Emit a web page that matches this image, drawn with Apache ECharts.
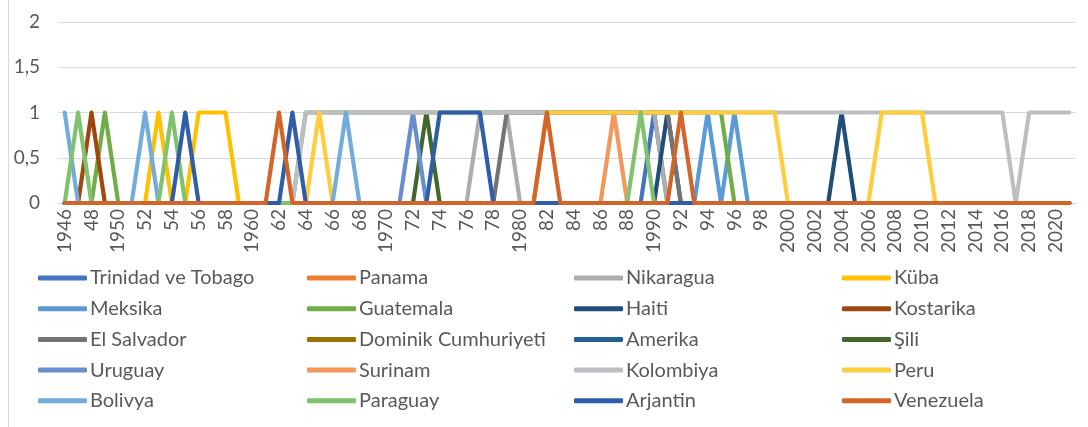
<!DOCTYPE html>
<html lang="tr">
<head>
<meta charset="utf-8">
<title>Ülkeler 1946-2021</title>
<script src="https://cdn.jsdelivr.net/npm/echarts@6/dist/echarts.min.js"></script>
<style>
  html, body { margin: 0; padding: 0; background: #fff; }
  #chart { width: 1088px; height: 427px; }
</style>
</head>
<body>
<div id="chart"></div>
<script>
// yillar (x ekseni)
var years = [];
for (var y = 1946; y <= 2021; y++) years.push(String(y));

// her ulke icin degeri 1 olan yillar
var trinidadYears = [1990];
var panamaYears = [];
var nikaraguaYears = [1977, 1978, 1979, 1982, 1983, 1984, 1985, 1986, 1987, 1988, 1989, 1990];
var kubaYears = [1953, 1956, 1957, 1958];
var meksikaYears = [1994, 1996];
var guatemalaYears = [1949, 1964, 1965, 1966, 1967, 1968, 1969, 1970, 1971, 1972, 1973, 1974, 1975, 1976, 1977, 1978, 1979, 1980, 1981, 1982, 1983, 1984, 1985, 1986, 1987, 1988, 1989, 1990, 1991, 1992, 1993, 1994, 1995];
var haitiYears = [1991, 2004];
var kostarikaYears = [1948];
var elSalvadorYears = [1979, 1980, 1981, 1982, 1983, 1984, 1985, 1986, 1987, 1988, 1989, 1990, 1991];
var dominikYears = [];
var amerikaYears = [];
var siliYears = [1973];
var uruguayYears = [1972];
var surinamYears = [1987];
var kolombiyaYears = [1964, 1965, 1966, 1967, 1968, 1969, 1970, 1971, 1972, 1973, 1974, 1975, 1976, 1977, 1978, 1979, 1980, 1981, 1982, 1983, 1984, 1985, 1986, 1987, 1988, 1989, 1990, 1991, 1992, 1993, 1994, 1995, 1996, 1997, 1998, 1999, 2000, 2001, 2002, 2003, 2004, 2005, 2006, 2007, 2008, 2009, 2010, 2011, 2012, 2013, 2014, 2015, 2016, 2018, 2019, 2020, 2021];
var peruYears = [1965, 1982, 1983, 1984, 1985, 1986, 1987, 1988, 1989, 1990, 1991, 1992, 1993, 1994, 1995, 1996, 1997, 1998, 1999, 2007, 2008, 2009, 2010];
var bolivyaYears = [1946, 1952, 1967];
var paraguayYears = [1947, 1954, 1989];
var arjantinYears = [1955, 1963, 1974, 1975, 1976, 1977];
var venezuelaYears = [1962, 1982, 1992];

var countries = [
  ['Trinidad ve Tobago', trinidadYears, '#4472C4'],
  ['Panama', panamaYears, '#ED7D31'],
  ['Nikaragua', nikaraguaYears, '#ADADAD'],
  ['Küba', kubaYears, '#FFC000'],
  ['Meksika', meksikaYears, '#5B9BD5'],
  ['Guatemala', guatemalaYears, '#70AD47'],
  ['Haiti', haitiYears, '#1F4E79'],
  ['Kostarika', kostarikaYears, '#9E480E'],
  ['El Salvador', elSalvadorYears, '#747474'],
  ['Dominik Cumhuriyeti', dominikYears, '#997300'],
  ['Amerika', amerikaYears, '#255E91'],
  ['Şili', siliYears, '#43682B'],
  ['Uruguay', uruguayYears, '#698ED0'],
  ['Surinam', surinamYears, '#F4975A'],
  ['Kolombiya', kolombiyaYears, '#BDBEC1'],
  ['Peru', peruYears, '#FFCD3C'],
  ['Bolivya', bolivyaYears, '#72ACDD'],
  ['Paraguay', paraguayYears, '#80C26E'],
  ['Arjantin', arjantinYears, '#2F5DA8'],
  ['Venezuela', venezuelaYears, '#D3652A']
];

var series = countries.map(function (c) {
  return {
    name: c[0],
    type: 'line',
    symbol: 'none',
    color: c[2],
    lineStyle: { width: 4.2, cap: 'round', join: 'round' },
    data: years.map(function (yr) { return c[1].indexOf(+yr) >= 0 ? 1 : 0; })
  };
});

// legend: 4 sutun, 5 satir
var legendCols = [[], [], [], []];
countries.forEach(function (c, i) { legendCols[i % 4].push(c[0]); });
var legendLeft = [33, 302, 569, 837];
var legends = legendCols.map(function (names, k) {
  return {
    data: names,
    orient: 'vertical',
    left: legendLeft[k],
    top: 263,
    icon: 'roundRect',
    itemWidth: 49,
    itemHeight: 5,
    itemGap: 10.7,
    selectedMode: false,
    textStyle: { fontFamily: 'Lato', fontSize: 20, lineHeight: 20, color: '#595959', padding: [0, 0, 0, -2] }
  };
});

var chart = echarts.init(document.getElementById('chart'), null, { renderer: 'canvas' });
chart.setOption({
  animation: false,
  backgroundColor: '#fff',
  grid: { left: 58, right: 12, top: 22, bottom: 224 },
  legend: legends,
  graphic: [{
    type: 'line',
    shape: { x1: 8.5, y1: 0, x2: 8.5, y2: 427 },
    style: { stroke: '#d9d9d9', lineWidth: 1 }
  }],
  xAxis: {
    type: 'category',
    data: years,
    boundaryGap: true,
    axisLine: { lineStyle: { color: '#d9d9d9' } },
    axisTick: { show: false },
    axisLabel: {
      interval: 1,
      rotate: 90,
      margin: 6,
      color: '#595959',
      fontFamily: 'Lato',
      fontSize: 19,
      formatter: function (v, i) {
        var n = +v;
        if (i > 0 && n < 2000 && n % 10 !== 0) return v.slice(2);
        return v;
      }
    }
  },
  yAxis: {
    type: 'value',
    min: 0,
    max: 2,
    interval: 0.5,
    axisLine: { show: false },
    axisTick: { show: false },
    splitLine: { lineStyle: { color: '#d9d9d9', width: 1 } },
    axisLabel: {
      margin: 18,
      color: '#595959',
      fontFamily: 'Lato',
      fontSize: 19,
      formatter: function (v) { return String(v).replace('.', ','); }
    }
  },
  series: series
});
</script>
</body>
</html>
